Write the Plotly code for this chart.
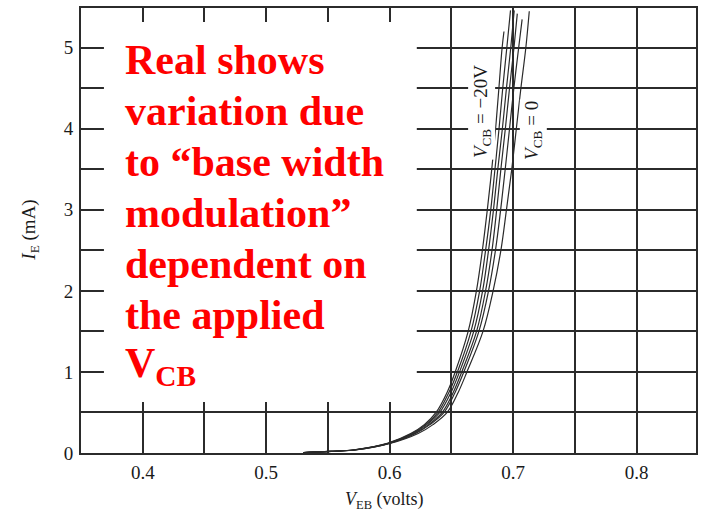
import plotly.graph_objects as go

# ---- data ----
I_MA = [0.005, 0.02, 0.04, 0.12, 0.24, 0.35, 0.5, 0.75, 1.0, 1.5, 2.0, 2.5, 3.0, 3.5, 4.0, 4.5, 5.0]

V_CURVE_0 = [0.530, 0.551, 0.571, 0.598, 0.617, 0.628, 0.6375, 0.6465, 0.6530, 0.6635, 0.6702, 0.6750, 0.6790, 0.6826, 0.6857, 0.6884, 0.6910]
V_CURVE_1 = [0.530, 0.551, 0.572, 0.599, 0.618, 0.629, 0.6390, 0.6480, 0.6548, 0.6658, 0.6728, 0.6776, 0.6818, 0.6852, 0.6885, 0.6915, 0.6948]
V_CURVE_2 = [0.530, 0.552, 0.572, 0.599, 0.619, 0.630, 0.6405, 0.6497, 0.6565, 0.6680, 0.6752, 0.6800, 0.6840, 0.6875, 0.6912, 0.6945, 0.6980]
V_CURVE_3 = [0.531, 0.552, 0.573, 0.600, 0.620, 0.6315, 0.6425, 0.6515, 0.6583, 0.6703, 0.6776, 0.6828, 0.6866, 0.6900, 0.6936, 0.6970, 0.7006]
V_CURVE_4 = [0.531, 0.553, 0.573, 0.600, 0.621, 0.6325, 0.6440, 0.6530, 0.6600, 0.6722, 0.6800, 0.6856, 0.6898, 0.6935, 0.6970, 0.7005, 0.7044]
V_CURVE_5 = [0.532, 0.553, 0.574, 0.601, 0.623, 0.635, 0.6465, 0.6555, 0.6625, 0.6755, 0.6837, 0.6900, 0.6945, 0.6988, 0.7025, 0.7062, 0.7102]

TOP_I = [5.20, 5.46, 5.46, 5.42, 5.35, 5.45]
TOP_V = [0.6925, 0.6978, 0.7008, 0.7033, 0.7072, 0.7130]

X_TICKS = [0.4, 0.5, 0.6, 0.7, 0.8]
Y_TICKS = [0, 1, 2, 3, 4, 5]

NOTE_LINES = ["Real shows", "variation due", "to \u201cbase width", "modulation\u201d",
              "dependent on", "the applied", "V<sub>CB</sub>"]

curves = [V_CURVE_0, V_CURVE_1, V_CURVE_2, V_CURVE_3, V_CURVE_4, V_CURVE_5]

fig = go.Figure()
for k, vc in enumerate(curves):
    fig.add_trace(go.Scatter(
        x=vc + [TOP_V[k]], y=I_MA + [TOP_I[k]], mode="lines",
        line=dict(color="#2a2a2a", width=1.2, shape="spline", smoothing=1.0),
        showlegend=False, hoverinfo="skip"))

GRID = "#2b2b2b"
SERIF = "Liberation Serif"

fig.update_layout(
    width=702, height=517,
    margin=dict(l=81, r=4, t=8, b=64),
    paper_bgcolor="white", plot_bgcolor="white",
    font=dict(family=SERIF, color="#1a1a1a"),
    xaxis=dict(range=[0.35, 0.848], tickvals=X_TICKS, ticktext=[f"{v:.1f}" for v in X_TICKS],
               showgrid=True, gridcolor=GRID, gridwidth=1.6,
               minor=dict(dtick=0.05, tick0=0.35, showgrid=True, gridcolor=GRID, gridwidth=1.6),
               showline=True, linecolor=GRID, linewidth=1.8, mirror=True,
               ticks="", zeroline=False, tickfont=dict(family=SERIF, size=19, color="#1a1a1a"),
               ticklabelstandoff=1),
    yaxis=dict(range=[0, 5.49], tickvals=Y_TICKS,
               showgrid=True, gridcolor=GRID, gridwidth=1.6,
               minor=dict(dtick=0.5, tick0=0, showgrid=True, gridcolor=GRID, gridwidth=1.6),
               showline=True, linecolor=GRID, linewidth=1.8, mirror=True,
               ticks="", zeroline=False, tickfont=dict(family=SERIF, size=19, color="#1a1a1a"),
               ticklabelstandoff=2),
)

# white note box covering part of the grid
fig.add_shape(type="rect", xref="paper", yref="paper",
              x0=0.0373, x1=0.546, y0=0.1146, y1=0.9685,
              fillcolor="white", line=dict(width=0), layer="above")

# red note text, one line per annotation
line_centers_px = [60, 111, 162, 213, 264, 315, 366]
for txt, cy in zip(NOTE_LINES, line_centers_px):
    fig.add_annotation(xref="paper", yref="paper", x=0.0681, y=(453 - cy) / 445,
                       xanchor="left", yanchor="middle", showarrow=False,
                       text=f"<b>{txt}</b>",
                       font=dict(family=SERIF, size=42, color="#ff0000"))

# curve labels
fig.add_annotation(x=0.6742, y=4.21, text="<i>V</i><sub>CB</sub> = \u221220V", textangle=-90,
                   showarrow=False, bgcolor="white", xanchor="center", yanchor="middle",
                   font=dict(family=SERIF, size=19, color="#1a1a1a"))
fig.add_annotation(x=0.7161, y=3.975, text="<i>V</i><sub>CB</sub> = 0", textangle=-90,
                   showarrow=False, bgcolor="white", xanchor="center", yanchor="middle",
                   font=dict(family=SERIF, size=19, color="#1a1a1a"))

# axis titles
fig.add_annotation(xref="paper", yref="paper", x=(29 - 81) / 617, y=0.5,
                   xanchor="center", yanchor="middle",
                   text="<i>I</i><sub>E</sub> (mA)", textangle=-90, showarrow=False,
                   font=dict(family=SERIF, size=19, color="#1a1a1a"))
fig.add_annotation(xref="paper", yref="paper", x=(385 - 81) / 617, y=(453 - 500) / 445,
                   xanchor="center", yanchor="middle",
                   text="<i>V</i><sub>EB</sub> (volts)", showarrow=False,
                   font=dict(family=SERIF, size=18, color="#1a1a1a"))

fig.write_html("out.html")
